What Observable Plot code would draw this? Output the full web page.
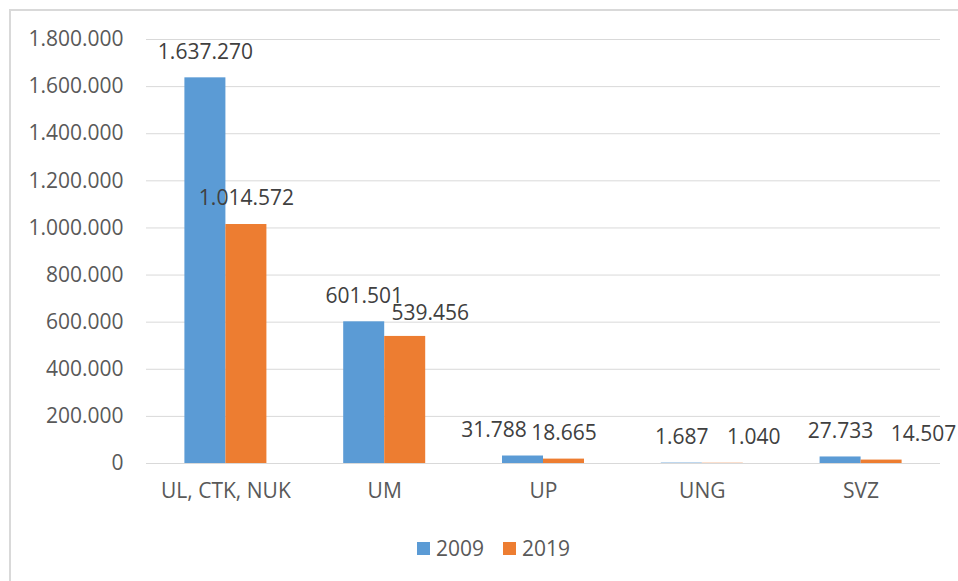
<!DOCTYPE html>
<html>
<head>
<meta charset="utf-8">
<script src="https://cdn.jsdelivr.net/npm/d3@7"></script>
<script src="https://cdn.jsdelivr.net/npm/@observablehq/plot@0.6"></script>
<style>
  html, body { margin: 0; padding: 0; background: #fff; width: 958px; height: 581px; overflow: hidden; }
  #frame { position: absolute; left: 9px; top: 9px; width: 1100px; height: 1100px; border: 2px solid #D9D9D9; box-sizing: border-box; }
  #chart { position: absolute; left: 0; top: 0; }
  #legend { position: absolute; left: 417px; top: 534px; display: flex; align-items: center; font-family: "Open Sans", sans-serif; font-size: 21px; color: #595959; }
  #legend .sw { width: 13px; height: 13px; display: inline-block; margin-right: 6px; }
  #legend .it { display: flex; align-items: center; margin-right: 19px; }
</style>
</head>
<body>
<div id="frame"></div>
<div id="chart"></div>
<div id="legend"></div>
<script>
const categories = ["UL, CTK, NUK", "UM", "UP", "UNG", "SVZ"];
const years = ["2009", "2019"];
const values2009 = [1637270, 601501, 31788, 1687, 27733];
const values2019 = [1014572, 539456, 18665, 1040, 14507];
const yTicks = [0, 200000, 400000, 600000, 800000, 1000000, 1200000, 1400000, 1600000, 1800000];

const colors = {"2009": "#5B9BD5", "2019": "#ED7D31"};
// manual label nudges (as placed in the original chart to avoid overlaps)
const nudgeX = {"2009": [0, 0, -29, 0, 0], "2019": [0, 25, 0, 31, 42]};
const nudgeY = {"2009": [0, 0, 0, 0, 0], "2019": [0, 2.5, 0, 0, 0]};

const locale = d3.formatLocale({decimal: ",", thousands: ".", grouping: [3], currency: ["", ""]});
const fmt = locale.format(",d");

const series = {
  "2009": categories.map((c, i) => ({cat: c, value: values2009[i], year: "2009"})),
  "2019": categories.map((c, i) => ({cat: c, value: values2019[i], year: "2019"}))
};

const labelMarks = [];
for (const yr of years) {
  series[yr].forEach((d, i) => {
    labelMarks.push(Plot.text([d], {
      x: "cat", y: "value", text: r => fmt(r.value),
      dx: (yr === "2009" ? -20.5 : 20.5) + nudgeX[yr][i],
      dy: -26 + nudgeY[yr][i],
      lineAnchor: "middle", textAnchor: "middle", fill: "#404040"
    }));
  });
}

const chart = Plot.plot({
  width: 958, height: 520,
  marginLeft: 146, marginRight: 18, marginTop: 39, marginBottom: 57,
  style: {fontFamily: "Open Sans, sans-serif", fontSize: "21px", color: "#595959", background: "transparent"},
  x: {domain: categories, paddingInner: 0.4836, paddingOuter: 0.2418, round: false, label: null},
  y: {domain: [0, 1800000], label: null},
  marks: [
    Plot.gridY(yTicks, {stroke: "#D9D9D9", strokeOpacity: 1, strokeWidth: 1}),
    Plot.axisY(yTicks, {tickSize: 0, tickPadding: 23, tickFormat: fmt, label: null, fill: "#595959"}),
    Plot.axisX({tickSize: 0, tickPadding: 20, label: null, fill: "#595959"}),
    Plot.barY(series["2009"], {x: "cat", y: "value", fill: colors["2009"], insetRight: 41}),
    Plot.barY(series["2019"], {x: "cat", y: "value", fill: colors["2019"], insetLeft: 41}),
    ...labelMarks
  ]
});
document.getElementById("chart").appendChild(chart);

const legend = document.getElementById("legend");
for (const yr of years) {
  const it = document.createElement("span");
  it.className = "it";
  const sw = document.createElement("span");
  sw.className = "sw";
  sw.style.background = colors[yr];
  it.appendChild(sw);
  it.appendChild(document.createTextNode(yr));
  legend.appendChild(it);
}
</script>
</body>
</html>
